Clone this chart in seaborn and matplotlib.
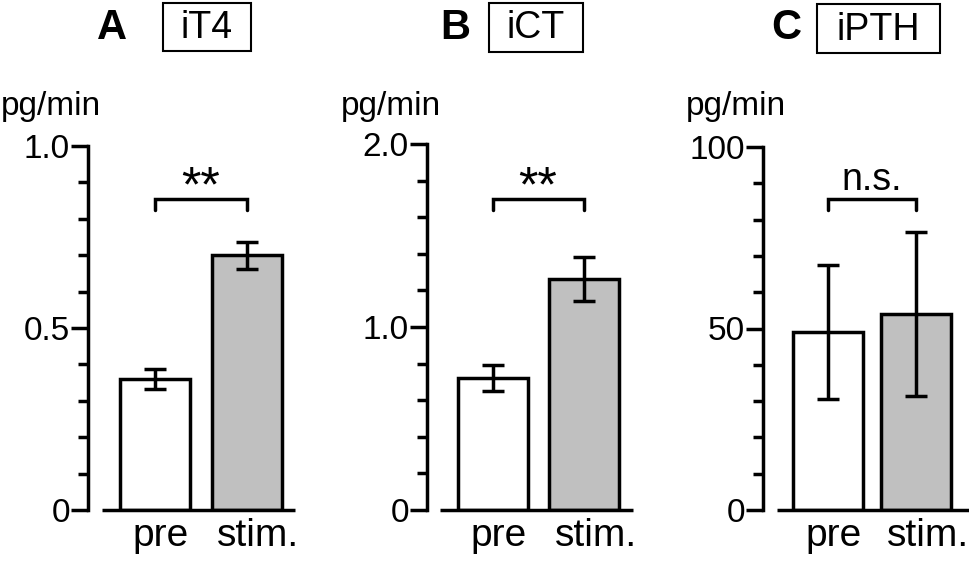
import matplotlib
matplotlib.use("Agg")
import matplotlib.pyplot as plt
import matplotlib.transforms as mtransforms
import seaborn as sns
import pandas as pd
from matplotlib.patches import Rectangle

# ---- data ----
conditions = ["pre", "stim."]
panel_letters = ["A", "B", "C"]
hormones = ["iT4", "iCT", "iPTH"]
it4_mean = [0.36, 0.70]
it4_err = [0.027, 0.037]
ict_mean = [0.72, 1.26]
ict_err = [0.07, 0.12]
ipth_mean = [49, 54]
ipth_err = [18.5, 22.6]
y_max = [1.0, 2.0, 100]
y_ticklabels = [["0", "0.5", "1.0"], ["0", "1.0", "2.0"], ["0", "50", "100"]]
sig_labels = ["**", "**", "n.s."]
unit_label = "pg/min"
bar_colors = ["white", "#c0c0c0"]

means = [it4_mean, ict_mean, ipth_mean]
errs = [it4_err, ict_err, ipth_err]

W, H = 969, 566
sns.set_style("ticks")
plt.rcParams['font.family'] = ['Liberation Sans', 'DejaVu Sans']
for k in ["text.color", "axes.labelcolor", "xtick.color", "ytick.color", "axes.edgecolor"]:
    plt.rcParams[k] = "black"
fig = plt.figure(figsize=(W / 100, H / 100), dpi=100)


def fx(px):
    return px / W


def fy(py):
    return 1 - py / H


# pixel layout of each panel
layout = [
    dict(axis_x=88, c0=155, c1=246.5, top=146, base=510, base_l=102, base_r=295,
         letter=(112, 28), box=(163, 3, 251, 51), unit=(1, 107)),
    dict(axis_x=427, c0=492.5, c1=583.5, top=144, base=510, base_l=440, base_r=633,
         letter=(455, 28), box=(489, 3, 583, 52), unit=(341, 107)),
    dict(axis_x=763, c0=827.5, c1=916, top=147, base=510, base_l=777, base_r=969,
         letter=(786, 28), box=(817, 4, 940, 53), unit=(686, 107)),
]

LW = 2.5
for i in range(3):
    L = layout[i]
    s = L["c1"] - L["c0"]
    ax = fig.add_axes([fx(L["axis_x"]), fy(L["base"]),
                       fx(L["base_r"]) - fx(L["axis_x"]), fy(L["top"]) - fy(L["base"])])
    df = pd.DataFrame({"condition": conditions, "value": means[i]})
    sns.barplot(data=df, x="condition", y="value", hue="condition", palette=bar_colors,
                edgecolor="black", linewidth=LW, width=70 / s, errorbar=None,
                legend=False, ax=ax, zorder=2)
    ax.errorbar([0, 1], means[i], yerr=errs[i], fmt="none", ecolor="black",
                elinewidth=LW, capsize=8, capthick=LW, zorder=3, clip_on=False)
    xl = (L["axis_x"] - L["c0"]) / s
    xr = (L["base_r"] - L["c0"]) / s
    ax.set_xlim(xl, xr)
    ax.set_ylim(0, y_max[i])
    # baseline separated from the y axis
    ax.plot([(L["base_l"] - L["c0"]) / s, xr], [0, 0], color="black", lw=LW,
            clip_on=False, solid_capstyle="butt", zorder=4)
    for sp in ["top", "right", "bottom"]:
        ax.spines[sp].set_visible(False)
    ax.spines["left"].set_linewidth(LW)
    ym = y_max[i]
    ax.set_yticks([0, ym / 2, ym])
    ax.set_yticklabels(y_ticklabels[i])
    ax.set_yticks([ym * k / 10 for k in range(1, 10) if k != 5], minor=True)
    ax.tick_params(axis="y", which="major", length=12, width=LW, labelsize=24, pad=1)
    ax.tick_params(axis="y", which="minor", length=7, width=LW)
    ax.set_xticks([0, 1])
    ax.set_xticklabels(conditions)
    ax.tick_params(axis="x", length=0, labelsize=28, pad=6)
    offsets = [6, 12]
    for lab, off in zip(ax.get_xticklabels(), offsets):
        lab.set_transform(lab.get_transform() +
                          mtransforms.ScaledTranslation(off / 100, 0, fig.dpi_scale_trans))
    ax.set_xlabel("")
    ax.set_ylabel("")

    # significance bracket
    span = L["base"] - L["top"]
    yb = (L["base"] - 199) / span * ym
    ye = (L["base"] - 210) / span * ym
    ax.plot([0, 0, 1, 1], [ye, yb, yb, ye], color="black", lw=LW, clip_on=False,
            solid_joinstyle="miter")
    if sig_labels[i] == "**":
        ax.text(0.5, (L["base"] - 188) / span * ym, sig_labels[i], ha="center", va="center",
                fontsize=36, clip_on=False)
    else:
        ax.text(0.5, (L["base"] - 180) / span * ym, sig_labels[i], ha="center", va="center",
                fontsize=27, clip_on=False)

    # unit label
    fig.text(fx(L["unit"][0]), fy(L["unit"][1]), unit_label, ha="left", va="center",
             fontsize=24)
    # panel letter
    fig.text(fx(L["letter"][0]), fy(L["letter"][1]), panel_letters[i], ha="center",
             va="center", fontsize=30, fontweight="bold")
    # boxed hormone name
    bx0, by0, bx1, by1 = L["box"]
    fig.patches.append(Rectangle((fx(bx0), fy(by1)), fx(bx1) - fx(bx0), fy(by0) - fy(by1),
                                 transform=fig.transFigure, fill=False, edgecolor="black",
                                 lw=1.5))
    fig.text(fx((bx0 + bx1) / 2), fy((by0 + by1) / 2 + 1), hormones[i], ha="center",
             va="center", fontsize=27)

fig.savefig("out.png", dpi=100)
